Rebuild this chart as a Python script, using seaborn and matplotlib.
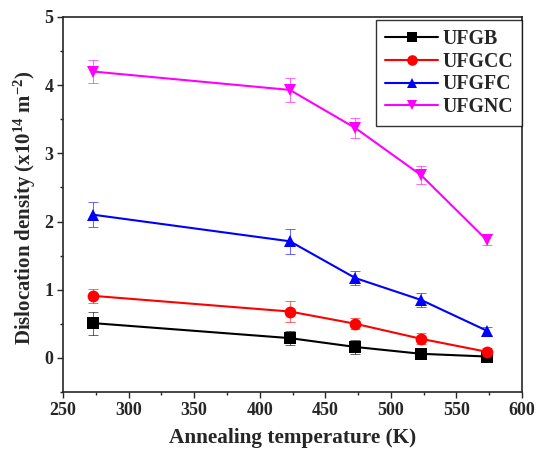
import matplotlib
matplotlib.use("Agg")
import matplotlib.pyplot as plt
import seaborn as sns
import pandas as pd
from matplotlib.ticker import MultipleLocator

temps = [273, 423, 473, 523, 573]
series_names = ["UFGB", "UFGCC", "UFGFC", "UFGNC"]
ufgb = [0.51, 0.29, 0.16, 0.06, 0.02]
ufgb_err = [0.17, 0.10, 0.10, 0.07, 0.03]
ufgcc = [0.91, 0.68, 0.50, 0.28, 0.09]
ufgcc_err = [0.10, 0.15, 0.08, 0.08, 0.05]
ufgfc = [2.10, 1.71, 1.17, 0.85, 0.40]
ufgfc_err = [0.18, 0.18, 0.10, 0.10, 0.06]
ufgnc = [4.20, 3.93, 3.37, 2.68, 1.73]
ufgnc_err = [0.17, 0.18, 0.15, 0.13, 0.08]

values = [ufgb, ufgcc, ufgfc, ufgnc]
errors = [ufgb_err, ufgcc_err, ufgfc_err, ufgnc_err]
colors = ["#000000", "#FF0000", "#0000FF", "#FF00FF"]
markers = ["s", "o", "^", "v"]

rows = []
for name, vals, errs in zip(series_names, values, errors):
    for t, v, e in zip(temps, vals, errs):
        rows.append({"T": t, "rho": v, "err": e, "series": name})
df = pd.DataFrame(rows)

sns.set_style("ticks")
plt.rcParams["font.family"] = ["Liberation Serif", "DejaVu Serif"]
plt.rcParams["font.weight"] = "bold"
plt.rcParams["mathtext.fontset"] = "custom"
plt.rcParams["mathtext.bf"] = "Liberation Serif:bold"
plt.rcParams["mathtext.rm"] = "Liberation Serif:bold"
plt.rcParams["mathtext.default"] = "bf"

fig = plt.figure(figsize=(5.36, 4.54), dpi=100)
ax = fig.add_axes([0.1175, 0.1366, 0.8565, 0.826])

for name, c, m in zip(series_names, colors, markers):
    sub = df[df["series"] == name]
    ax.errorbar(sub["T"], sub["rho"], yerr=sub["err"], fmt="none",
                ecolor=c, elinewidth=0.7, capsize=3.5, capthick=0.7, alpha=0.6, zorder=2)

sns.lineplot(data=df, x="T", y="rho", hue="series", style="series",
             palette=dict(zip(series_names, colors)),
             markers=dict(zip(series_names, markers)), dashes=False,
             markersize=8.5, linewidth=1.5, markeredgewidth=0, ax=ax, zorder=3)

ax.set_xlim(250, 600)
ax.set_ylim(-0.5, 5)
ax.xaxis.set_major_locator(MultipleLocator(50))
ax.xaxis.set_minor_locator(MultipleLocator(25))
ax.yaxis.set_major_locator(MultipleLocator(1))
ax.yaxis.set_minor_locator(MultipleLocator(0.5))
ax.tick_params(axis="both", which="major", direction="out", length=4, width=1.0,
               labelsize=13, pad=3)
ax.tick_params(axis="both", which="minor", direction="out", length=2.5, width=1.0)
for lab in ax.get_xticklabels() + ax.get_yticklabels():
    lab.set_fontweight("bold")
for sp in ax.spines.values():
    sp.set_visible(True)
    sp.set_linewidth(1.2)

ax.set_xlabel("Annealing temperature (K)", fontsize=15.3, fontweight="bold", labelpad=7)
ax.set_ylabel(r"Dislocation density (x10$^{14}$ m$^{-2}$)",
              fontsize=15, fontweight="bold")
ax.yaxis.set_label_coords(-0.055, 0.49)

leg = ax.legend(loc="upper right", bbox_to_anchor=(1.0, 0.992), frameon=True,
                fancybox=False, edgecolor="black",
                prop={"weight": "bold", "size": 14.3}, handlelength=2.7,
                borderaxespad=0.0, labelspacing=0.14, handletextpad=0.2,
                borderpad=0.45, markerscale=0.9)
leg.get_frame().set_linewidth(1.0)
leg.set_title(None)

fig.savefig("out.png", dpi=100)
